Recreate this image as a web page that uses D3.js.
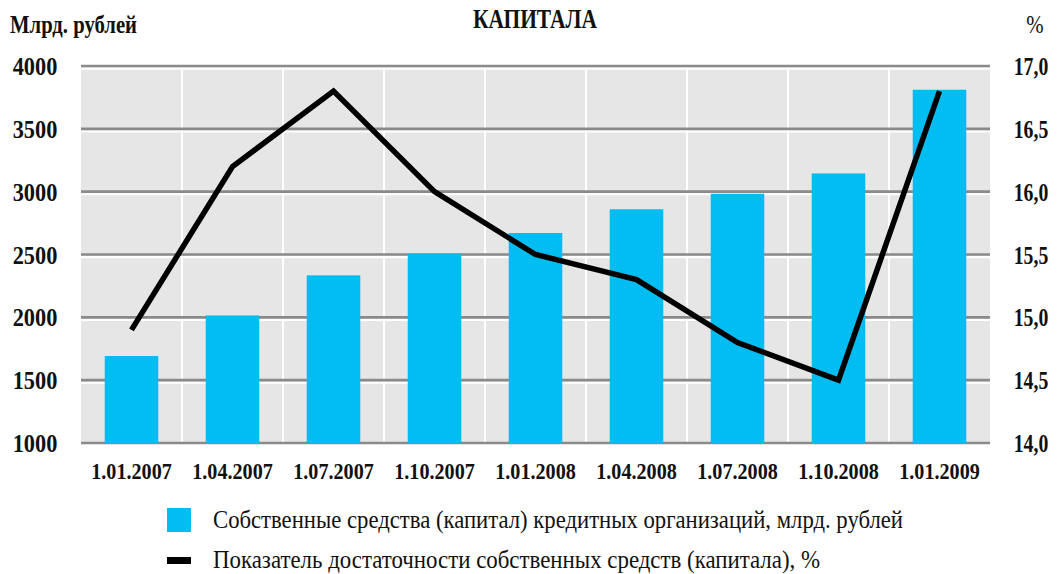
<!DOCTYPE html>
<html>
<head>
<meta charset="utf-8">
<script src="https://cdn.jsdelivr.net/npm/d3@7"></script>
<style>
  body { margin: 0; background: #fff; }
</style>
</head>
<body>
<div id="chart"></div>
<script>
// data
const dates = ["1.01.2007", "1.04.2007", "1.07.2007", "1.10.2007", "1.01.2008",
    "1.04.2008", "1.07.2008", "1.10.2008", "1.01.2009"];
const capital = [1692, 2015, 2334, 2507, 2671, 2860, 2983, 3145, 3811];
const adequacy = [14.9, 16.2, 16.8, 16.0, 15.5, 15.3, 14.8, 14.5, 16.8];
const leftTicks = [1000, 1500, 2000, 2500, 3000, 3500, 4000];
const rightTicks = [14.0, 14.5, 15.0, 15.5, 16.0, 16.5, 17.0];
const legendLabels = [
    "Собственные средства (капитал) кредитных организаций, млрд. рублей",
    "Показатель достаточности собственных средств (капитала), %"
];

const FONT = "'Liberation Serif', 'Times New Roman', Times, 'DejaVu Serif', serif";

function main() {
    const width = 1059, height = 574;
    const left = 81, right = 990, top = 66, bottom = 443;

    const svg = d3.select("#chart").append("svg")
        .attr("width", width)
        .attr("height", height)
        .attr("font-family", FONT)
        .style("font-family", FONT)

    const x = d3.scaleBand().domain(dates).range([left, right])
    const y = d3.scaleLinear().domain([1000, 4000]).range([bottom, top])
    const y2 = d3.scaleLinear().domain([14, 17]).range([bottom, top])
    const barW = x.bandwidth() * 0.53;

    // plot background
    svg.append("rect")
        .attr("x", left).attr("y", top)
        .attr("width", right - left).attr("height", bottom - top)
        .attr("fill", "#e6e6e6")

    // vertical separators between categories
    svg.append("g").selectAll("line")
        .data(dates.slice(1))
        .enter().append("line")
        .attr("x1", d => x(d)).attr("x2", d => x(d))
        .attr("y1", top).attr("y2", bottom)
        .attr("stroke", "#fff")
        .attr("stroke-width", 2)

    // horizontal grid: grey line with a white line under it
    const grid = svg.append("g")
    grid.selectAll("line.w")
        .data(leftTicks.slice(1))
        .enter().append("line")
        .attr("class", "w")
        .attr("x1", left).attr("x2", right)
        .attr("y1", d => y(d) + 2.6).attr("y2", d => y(d) + 2.6)
        .attr("stroke", "#fff")
        .attr("stroke-width", 2.2)
    grid.selectAll("line.g")
        .data(leftTicks)
        .enter().append("line")
        .attr("class", "g")
        .attr("x1", left).attr("x2", right)
        .attr("y1", d => y(d)).attr("y2", d => y(d))
        .attr("stroke", "#8a8a8a")
        .attr("stroke-width", 2.6)

    // bars
    svg.append("g").selectAll("rect")
        .data(capital)
        .enter().append("rect")
        .attr("x", (d, i) => x(dates[i]) + (x.bandwidth() - barW) / 2)
        .attr("y", d => y(d))
        .attr("width", barW)
        .attr("height", d => y(1000) - y(d))
        .attr("fill", "#02bdf1")

    // adequacy line
    const line = d3.line()
        .x((d, i) => x(dates[i]) + x.bandwidth() / 2)
        .y(d => y2(d))
    svg.append("path")
        .datum(adequacy)
        .attr("d", line)
        .attr("fill", "none")
        .attr("stroke", "#000")
        .attr("stroke-width", 5.5)
        .attr("stroke-linejoin", "miter")

    // condensed text helper
    function label(g, px, py, txt, size, sx, anchor, weight) {
        return g.append("text")
            .attr("transform", `translate(${px},${py}) scale(${sx},1)`)
            .attr("text-anchor", anchor)
            .attr("font-size", size)
            .attr("font-weight", weight)
            .attr("fill", "#111")
            .text(txt)
    }

    const axes = svg.append("g")
    leftTicks.forEach(t => {
        label(axes, 35, y(t) + 9, String(t), 26, 0.86, "middle", "bold")
    })
    rightTicks.forEach(t => {
        label(axes, 1031, y2(t) + 9, t.toFixed(1).replace(".", ","), 26, 0.76, "middle", "bold")
    })
    dates.forEach(d => {
        label(axes, x(d) + x.bandwidth() / 2, 479, d, 24, 0.84, "middle", "bold")
    })

    // titles
    svg.append("text")
        .attr("x", 10).attr("y", 33)
        .attr("font-size", 25).attr("font-weight", "bold")
        .attr("textLength", 127).attr("lengthAdjust", "spacingAndGlyphs")
        .attr("fill", "#111")
        .text("Млрд. рублей")
    svg.append("text")
        .attr("x", 473).attr("y", 28)
        .attr("font-size", 27).attr("font-weight", "bold")
        .attr("textLength", 124).attr("lengthAdjust", "spacingAndGlyphs")
        .attr("fill", "#111")
        .text("КАПИТАЛА")
    label(svg, 1035, 33, "%", 26, 0.8, "middle", "normal")

    // legend
    const legend = svg.append("g")
    legend.append("rect")
        .attr("x", 167).attr("y", 508)
        .attr("width", 24).attr("height", 24)
        .attr("fill", "#02bdf1")
    legend.append("rect")
        .attr("x", 167).attr("y", 557)
        .attr("width", 24).attr("height", 7)
        .attr("fill", "#000")
    const legendEnds = [903, 820];
    const legendBase = [528, 568];
    legendLabels.forEach((t, i) => {
        legend.append("text")
            .attr("x", 213).attr("y", legendBase[i])
            .attr("font-size", 25)
            .attr("textLength", legendEnds[i] - 213)
            .attr("lengthAdjust", "spacingAndGlyphs")
            .attr("fill", "#111")
            .text(t)
    })
}
main();
</script>
</body>
</html>
